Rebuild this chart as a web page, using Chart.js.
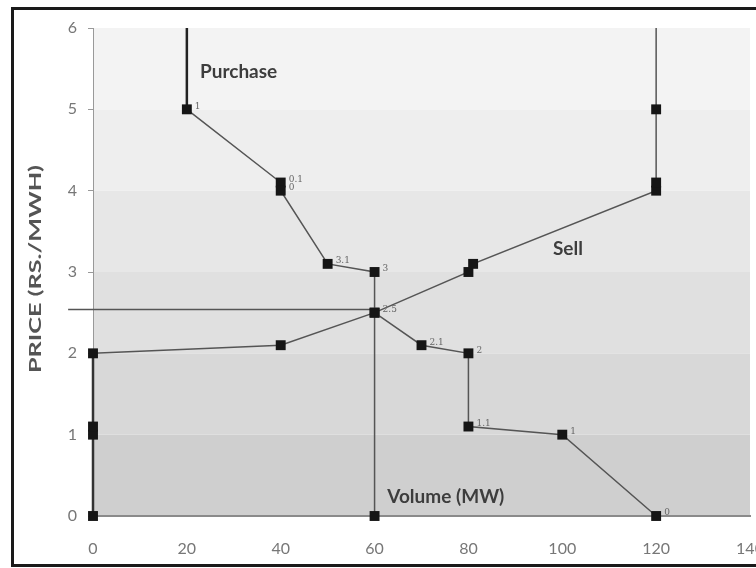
<!DOCTYPE html>
<html>
<head>
<meta charset="utf-8">
<script src="https://cdn.jsdelivr.net/npm/chart.js@4"></script>
<style>
  html, body { margin: 0; padding: 0; background: #fff; overflow: hidden; }
  #wrap { position: relative; width: 756px; height: 568px; }
  #frame { position: absolute; left: 11px; top: 7px; width: 770px; height: 560px; border: 3px solid #1a1a1a; box-sizing: border-box; }
  canvas { position: absolute; left: 0; top: 0; }
</style>
</head>
<body>
<div id="wrap">
  <div id="frame"></div>
  <canvas id="marketChart" width="756" height="568"></canvas>
</div>
<script>
// purchase (demand) curve
const purchaseVolume = [20, 20, 40, 40, 50, 60, 60, 70, 80, 80, 100, 120];
const purchasePrice = [6, 5, 4.1, 4.0, 3.1, 3.0, 2.5, 2.1, 2.0, 1.1, 1.0, 0];
const purchaseLabels = ["", "1", "0.1", "0", "3.1", "3", "2.5", "2.1", "2", "1.1", "1", "0"];

// sell (supply) curve
const sellVolume = [0, 0, 0, 0, 40, 60, 80, 81, 120, 120, 120, 120];
const sellPrice = [0, 1, 1.1, 2, 2.1, 2.5, 3.0, 3.1, 4.0, 4.1, 5, 6];

// market clearing point
const clearingVolume = 60;
const clearingPrice = 2.54;
const priceLineStart = -5.3;

const xTicks = [0, 20, 40, 60, 80, 100, 120, 140];
const yTicks = [0, 1, 2, 3, 4, 5, 6];

const toPoints = (xs, ys) => xs.map((x, i) => ({ x: x, y: ys[i] }));

const priceBands = {
  id: "priceBands",
  beforeDraw(chart) {
    const { ctx, chartArea, scales } = chart;
    const shades = ["#cfcfcf", "#d8d8d8", "#e0e0e0", "#e7e7e7", "#eeeeee", "#f3f3f3"];
    ctx.save();
    for (let i = 0; i < shades.length; i++) {
      const top = scales.y.getPixelForValue(i + 1);
      const bottom = scales.y.getPixelForValue(i);
      ctx.fillStyle = shades[i];
      ctx.fillRect(chartArea.left, top, chartArea.right - chartArea.left, bottom - top);
    }
    ctx.restore();
  }
};

const chartNotes = {
  id: "chartNotes",
  afterDatasetsDraw(chart) {
    const { ctx, scales, chartArea } = chart;
    const meta = chart.getDatasetMeta(0);
    ctx.save();
    ctx.fillStyle = "#666";
    ctx.font = "9px 'DejaVu Serif'";
    ctx.textAlign = "left";
    ctx.textBaseline = "middle";
    meta.data.forEach((pt, i) => {
      if (purchaseLabels[i]) {
        ctx.fillText(purchaseLabels[i], pt.x + 8, pt.y - 3);
      }
    });

    ctx.fillStyle = "#3d3d3d";
    ctx.font = "bold 19px Lato";
    ctx.fillText("Purchase", scales.x.getPixelForValue(22.8), scales.y.getPixelForValue(5.46));
    ctx.fillText("Sell", scales.x.getPixelForValue(98), scales.y.getPixelForValue(3.28));
    ctx.fillText("Volume (MW)", scales.x.getPixelForValue(62.7), scales.y.getPixelForValue(0.23));

    // y axis title, stretched along its length like the source
    const title = "PRICE (RS./MWH)";
    ctx.fillStyle = "#555";
    ctx.font = "bold 17px Lato";
    ctx.textAlign = "center";
    ctx.translate(36, (chartArea.top + chartArea.bottom) / 2 - 3);
    ctx.rotate(-Math.PI / 2);
    ctx.scale(208 / ctx.measureText(title).width, 1);
    ctx.fillText(title, 0, 0);
    ctx.restore();
  }
};

const ctx = document.getElementById("marketChart");

const marketChart = new Chart(ctx, {
  type: "scatter",
  data: {
    datasets: [
      {
        label: "Purchase",
        data: toPoints(purchaseVolume, purchasePrice),
        showLine: true,
        clip: false,
        borderColor: "#555",
        borderWidth: 1.5,
        pointStyle: "rect",
        pointRadius: c => (c.dataIndex === 0 ? 0 : 7),
        pointBackgroundColor: "#151515",
        pointBorderWidth: 0,
        segment: {
          borderWidth: c => (c.p0DataIndex === 0 ? 2.5 : 1.5),
          borderColor: c => (c.p0DataIndex === 0 ? "#222" : "#555")
        }
      },
      {
        label: "Sell",
        data: toPoints(sellVolume, sellPrice),
        showLine: true,
        clip: false,
        borderColor: "#555",
        borderWidth: 1.5,
        pointStyle: "rect",
        pointRadius: c => (c.dataIndex === sellVolume.length - 1 ? 0 : 7),
        pointBackgroundColor: "#151515",
        pointBorderWidth: 0,
        segment: {
          borderWidth: c => (c.p0DataIndex < 3 ? 2.5 : 1.5),
          borderColor: c => (c.p0DataIndex < 3 ? "#333" : "#555")
        }
      },
      {
        label: "Clearing volume",
        data: [{ x: clearingVolume, y: 2.5 }, { x: clearingVolume, y: 0 }],
        showLine: true,
        clip: false,
        borderColor: "#555",
        borderWidth: 1.5,
        pointStyle: "rect",
        pointRadius: [0, 7],
        pointBackgroundColor: "#151515",
        pointBorderWidth: 0
      },
      {
        label: "Clearing price",
        data: [{ x: priceLineStart, y: clearingPrice }, { x: clearingVolume, y: clearingPrice }],
        showLine: true,
        borderColor: "#555",
        borderWidth: 1.5,
        pointRadius: 0,
        clip: false
      }
    ]
  },
  options: {
    responsive: false,
    animation: false,
    layout: {
      autoPadding: false,
      padding: { left: 0, top: 28, right: 6, bottom: 0 }
    },
    plugins: {
      legend: { display: false },
      tooltip: { enabled: false }
    },
    scales: {
      x: {
        type: "linear",
        min: 0,
        max: 140,
        afterFit: scale => {
          scale.height = 52;
          scale.paddingLeft = 0;
          scale.paddingRight = 0;
        },
        afterBuildTicks: scale => { scale.ticks = xTicks.map(v => ({ value: v })); },
        ticks: {
          padding: 23,
          color: "#777",
          font: { family: "Lato", size: 16 }
        },
        grid: { display: false, drawTicks: false },
        border: { display: true, color: "#8a8a8a", width: 2 }
      },
      y: {
        type: "linear",
        min: 0,
        max: 6,
        afterFit: scale => {
          scale.width = 93;
          scale.paddingTop = 0;
          scale.paddingBottom = 0;
        },
        afterBuildTicks: scale => { scale.ticks = yTicks.map(v => ({ value: v })); },
        ticks: {
          padding: 11,
          color: "#777",
          font: { family: "Lato", size: 16 }
        },
        grid: { drawOnChartArea: false, drawTicks: true, tickLength: 5, color: "#999" },
        border: { display: true, color: "#999", width: 1 }
      }
    }
  },
  plugins: [priceBands, chartNotes]
});
</script>
</body>
</html>
